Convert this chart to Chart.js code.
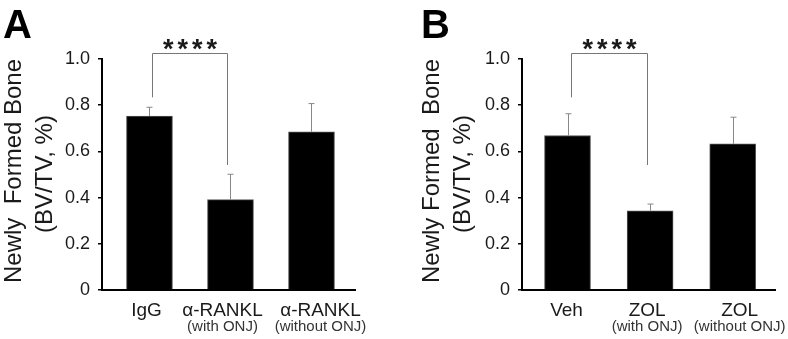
<!DOCTYPE html>
<html>
<head>
<meta charset="utf-8">
<script src="https://cdn.jsdelivr.net/npm/chart.js@4"></script>
<style>
    body { margin: 0; background: #fff; }
    .panel { position: absolute; top: 0; width: 394px; height: 339px; }
    #panelA { left: 0; }
    #panelB { left: 394px; }
</style>
</head>
<body>
<div class="panel" id="panelA"><canvas id="chartA" width="394" height="339"></canvas></div>
<div class="panel" id="panelB"><canvas id="chartB" width="394" height="339"></canvas></div>
<script>
// panel A: anti-RANKL
const labelsA = ['IgG', 'α-RANKL', 'α-RANKL'];
const subLabelsA = ['', '(with ONJ)', '(without ONJ)'];
const meansA = [0.753, 0.391, 0.685];
const semA = [0.038, 0.110, 0.122];
// bracket: top, left leg end, right leg end (y values)
const bracketA = [1.025, 0.834, 0.541];

// panel B: zoledronate
const labelsB = ['Veh', 'ZOL', 'ZOL'];
const subLabelsB = ['', '(with ONJ)', '(without ONJ)'];
const meansB = [0.669, 0.343, 0.633];
const semB = [0.094, 0.029, 0.115];
const bracketB = [1.025, 0.834, 0.541];

const yTicks = [0, 0.2, 0.4, 0.6, 0.8, 1.0];
const sigText = '****';

const FONT = '"Liberation Sans", Arial, sans-serif';
const INK = '#1a1a1a';

const decor = {
    id: 'decor',
    afterDatasetsDraw(chart, args, o) {
        const ctx = chart.ctx;
        const x = chart.scales.x, y = chart.scales.y;
        ctx.save();

        // error bars (upper only)
        ctx.strokeStyle = '#888';
        ctx.lineWidth = 1;
        o.means.forEach((m, i) => {
            const px = Math.round(x.getPixelForValue(i + 1)) + 0.5;
            const top = y.getPixelForValue(m + o.sem[i]);
            ctx.beginPath();
            ctx.moveTo(px, y.getPixelForValue(m));
            ctx.lineTo(px, top);
            ctx.moveTo(px - 3, top);
            ctx.lineTo(px + 3, top);
            ctx.stroke();
        });

        // significance bracket between first two groups
        const x1 = Math.round(x.getPixelForValue(1)) + 3.5;
        const x2 = Math.round(x.getPixelForValue(2)) - 2.5;
        const yt = Math.round(y.getPixelForValue(o.bracket[0])) + 0.5;
        ctx.strokeStyle = '#777';
        ctx.beginPath();
        ctx.moveTo(x1, y.getPixelForValue(o.bracket[1]));
        ctx.lineTo(x1, yt);
        ctx.lineTo(x2, yt);
        ctx.lineTo(x2, y.getPixelForValue(o.bracket[2]));
        ctx.stroke();

        ctx.fillStyle = INK;
        ctx.font = 'bold 27px ' + FONT;
        ctx.letterSpacing = '4px';
        ctx.textAlign = 'center';
        ctx.textBaseline = 'alphabetic';
        ctx.fillText(o.sig, (x1 + x2) / 2 + 2, yt + 4.5);
        ctx.letterSpacing = '0px';

        // category labels (nudged like the original figure)
        o.labels.forEach((lab, i) => {
            const px = x.getPixelForValue(i + 1) + o.shift[i];
            ctx.fillStyle = INK;
            ctx.font = '19px ' + FONT;
            ctx.fillText(lab, px, 316);
            if (o.subLabels[i]) {
                ctx.fillStyle = '#333';
                ctx.font = '15px ' + FONT;
                ctx.fillText(o.subLabels[i], px, 331);
            }
        });

        // y title
        ctx.fillStyle = INK;
        ctx.font = '24px ' + FONT;
        ctx.save();
        ctx.translate(o.titleX[0], 171);
        ctx.rotate(-Math.PI / 2);
        ctx.fillText(o.title[0], 0, 0);
        ctx.restore();
        ctx.save();
        ctx.translate(o.titleX[1], 174);
        ctx.rotate(-Math.PI / 2);
        ctx.fillText(o.title[1], 0, 0);
        ctx.restore();

        // panel letter
        ctx.font = 'bold 40px ' + FONT;
        ctx.textAlign = 'left';
        ctx.fillStyle = '#000';
        ctx.fillText(o.letter, o.letterX, 38);
        ctx.restore();
    }
};

function makeChart(id, p) {
    return new Chart(document.getElementById(id), {
        type: 'bar',
        data: {
            datasets: [{
                data: p.means.map((m, i) => ({ x: i + 1, y: m })),
                backgroundColor: '#000',
                borderColor: '#555',
                borderWidth: 1,
                barThickness: 46
            }]
        },
        options: {
            responsive: false,
            animation: false,
            layout: { padding: { left: 0, top: 59, right: p.padRight, bottom: 49 } },
            scales: {
                x: {
                    type: 'linear',
                    min: p.xMin,
                    max: p.xMax,
                    offset: false,
                    ticks: { display: false },
                    grid: { display: false, offset: false },
                    border: { display: true, color: '#000', width: 2 },
                    afterFit: s => { s.height = 0; }
                },
                y: {
                    min: 0,
                    max: 1,
                    afterBuildTicks: s => { s.ticks = yTicks.map(v => ({ value: v })); },
                    ticks: {
                        color: INK,
                        padding: 8,
                        font: { family: FONT, size: 18 },
                        callback: v => v === 0 ? '0' : v.toFixed(1)
                    },
                    grid: { drawOnChartArea: false, drawTicks: true, tickLength: 4, color: '#000', lineWidth: 1.5 },
                    border: { display: true, color: '#000', width: 2 },
                    afterFit: s => { s.width = p.axisX; }
                }
            },
            plugins: {
                legend: { display: false },
                tooltip: { enabled: false },
                decor: {
                    means: p.means, sem: p.sem, bracket: p.bracket, sig: sigText,
                    labels: p.labels, subLabels: p.subLabels, shift: p.shift,
                    title: p.title, titleX: p.titleX,
                    letter: p.letter, letterX: p.letterX
                }
            }
        },
        plugins: [decor]
    });
}

makeChart('chartA', {
    means: meansA, sem: semA, bracket: bracketA, labels: labelsA, subLabels: subLabelsA,
    shift: [-3, -8, 9],
    title: ['Newly  Formed Bone', '(BV/TV, %)'], titleX: [21, 52],
    letter: 'A', letterX: 3, axisX: 102, padRight: 39, xMin: 0.414, xMax: 3.537
});
makeChart('chartB', {
    means: meansB, sem: semB, bracket: bracketB, labels: labelsB, subLabels: subLabelsB,
    shift: [-1, -3, 7],
    title: ['Newly Formed  Bone', '(BV/TV, %)'], titleX: [45, 76],
    letter: 'B', letterX: 27, axisX: 128, padRight: 13, xMin: 0.449, xMax: 3.512
});
</script>
</body>
</html>
